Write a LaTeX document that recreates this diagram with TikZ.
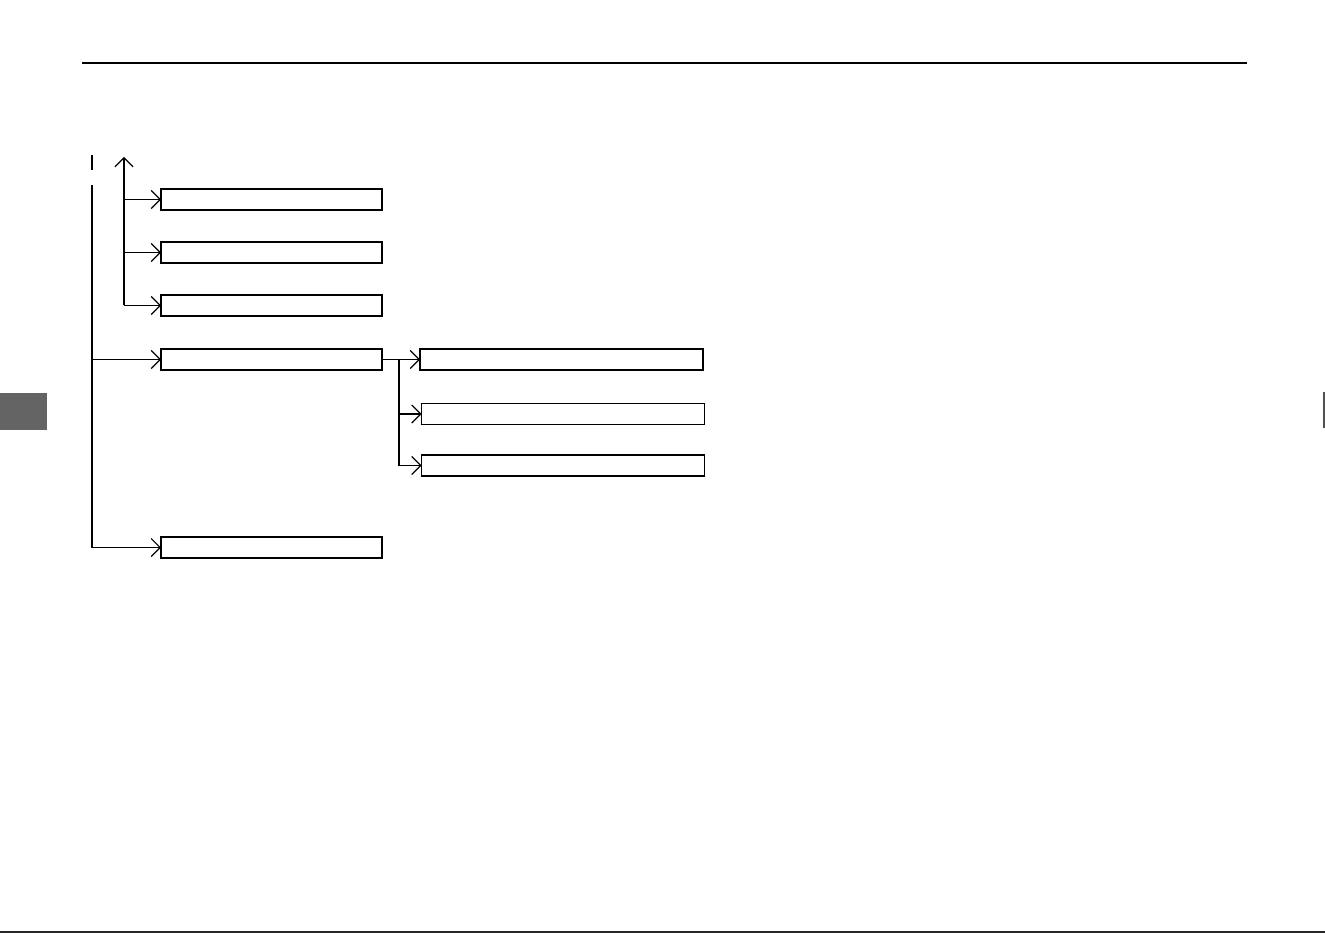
\documentclass[tikz,border=0pt]{standalone}
\usepackage{xcolor}
\usetikzlibrary{arrows.meta,positioning,calc}
\definecolor{tabgray}{HTML}{646464}
\definecolor{edgegray}{HTML}{505050}

\begin{document}
\begin{tikzpicture}[x=1pt,y=-1pt,line width=1.1pt,
 arr/.style={-{Straight Barb[length=9pt,width=18pt,line width=1.1pt]}},
 box/.style={draw,rectangle,inner sep=0pt,outer sep=0pt,minimum height=21pt},
 shortbox/.style={box,minimum width=221pt},
 longbox/.style={box,minimum width=283pt}]
\useasboundingbox (0,0) rectangle (1325,933);
% page furniture
\draw[line width=1.5pt] (82,63) -- (1247,63);
\fill[tabgray] (0,393) rectangle (47,430);
\draw[edgegray,line width=1.5pt] (1324,392) -- (1324,428);
\draw[black!85,line width=1.5pt] (0,932) -- (1325,932);
% boxes
\node[shortbox] (opt1) at (271.5,199.5) {};
\node[shortbox] (opt2) at (271.5,252.5) {};
\node[shortbox] (opt3) at (271.5,305.5) {};
\node[shortbox] (opt4) at (271.5,359.5) {};
\node[shortbox] (opt5) at (271.5,547.5) {};
\node[longbox] (sub1) at (561.5,359.5) {};
\node[longbox] (sub2) at (563,414) {};
\node[longbox] (sub3) at (563,465.5) {};
% upward branch
\coordinate (uptop) at (124,157);
\coordinate (upfoot) at (124,305.5);
\draw[arr] (upfoot) -- (uptop);
\draw[arr] (uptop|-opt1.west) -- (opt1.west);
\draw[arr] (uptop|-opt2.west) -- (opt2.west);
\draw[arr] (upfoot) -- (opt3.west);
% main trunk
\coordinate (stub) at (92,155);
\coordinate (trunk) at (92,185);
\draw (stub) -- ++(0,15);
\draw[arr] (trunk) |- (opt5.west);
\draw[arr] (trunk|-opt4.west) -- (opt4.west);
% sub branch
\coordinate (fork) at (399,359.5);
\draw[arr] (opt4.east) -- (sub1.west);
\draw[arr] (fork) |- (sub3.west);
\draw[arr] (fork|-sub2.west) -- (sub2.west);
\end{tikzpicture}
\end{document}
